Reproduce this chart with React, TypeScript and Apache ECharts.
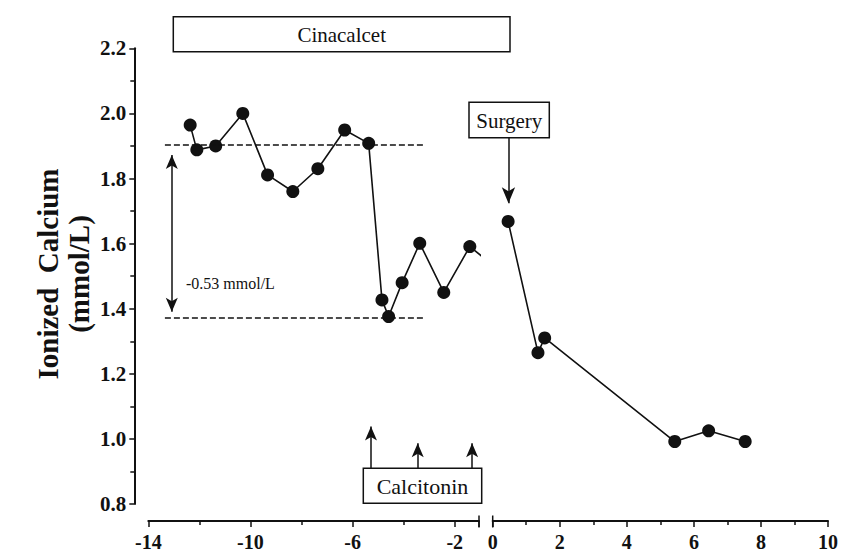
import React, { useEffect, useRef } from "react";
import * as echarts from "echarts";

// Pre-surgery (weeks, left panel)
const preWeeks = [-12.36, -12.1, -11.36, -10.3, -9.33, -8.34, -7.36, -6.31, -5.37, -4.85, -4.59, -4.06, -3.37, -2.43, -1.41];
const preCalcium = [1.964, 1.888, 1.9, 2.0, 1.811, 1.76, 1.83, 1.949, 1.908, 1.427, 1.376, 1.48, 1.601, 1.45, 1.591];
// line stub leaving the left panel towards the axis break
const stubWeeks = [-1.41, -0.86];
const stubCalcium = [1.591, 1.556];
// Post-surgery (right panel)
const postWeeks = [0.46, 1.35, 1.55, 5.43, 6.44, 7.53];
const postCalcium = [1.668, 1.265, 1.31, 0.992, 1.025, 0.992];

// Reference levels (dashed lines) and their span
const upperLevel = 1.905;
const lowerLevel = 1.371;
const levelSpan = [-13.35, -3.15];
const diffArrowX = -13.08;
const diffArrowY = [1.872, 1.391];
const diffLabel = "-0.53 mmol/L";

// Calcitonin doses (arrows)
const calcitoninWeeks = [-5.28, -3.45, -1.32];
const calcitoninArrowBase = 0.9105;
const calcitoninArrowTips = [1.038, 0.987, 0.987];
// Surgery arrow
const surgeryWeek = 0.47;
const surgeryArrowY = [1.925, 1.724];

// Axis ticks
const yTicks = [0.8, 1.0, 1.2, 1.4, 1.6, 1.8, 2.0, 2.2];
const leftXLabels = [-14, -10, -6, -2];
const rightXLabels = [0, 2, 4, 6, 8, 10];

const SERIF = "'Liberation Serif', 'DejaVu Serif', serif";

export default function App() {
  const ref = useRef<HTMLDivElement>(null);
  useEffect(() => {
    if (!ref.current) return;
    const chart = echarts.init(ref.current, undefined, { renderer: "svg" });

    const black = "#111";
    const tickLabel = {
      color: black,
      fontFamily: SERIF,
      fontWeight: "bold" as const,
      fontSize: 20,
    };

    const xAxisCommon = {
      type: "value" as const,
      offset: 17,
      splitLine: { show: false },
      axisLine: { show: true, onZero: false, lineStyle: { color: black, width: 2 } },
      axisTick: { show: true, length: 6, lineStyle: { color: black, width: 1.5 } },
      minorTick: { show: true, splitNumber: 2, length: 4, lineStyle: { color: black, width: 1.5 } },
    };

    const arrowLines = calcitoninWeeks.map((w, i) => [
      { coord: [w, calcitoninArrowBase], symbol: "none" },
      { coord: [w, calcitoninArrowTips[i]], symbol: "arrow" },
    ]);

    chart.setOption({
      animation: false,
      grid: [
        { left: 148.3, top: 48.3, width: 330.7, height: 456 },
        { left: 492.7, top: 48.3, width: 337.3, height: 456 },
      ],
      xAxis: [
        {
          ...xAxisCommon,
          gridIndex: 0,
          min: -14,
          max: -1.05,
          interval: 4,
          axisLabel: {
            ...tickLabel,
            margin: 11,
            showMaxLabel: false,
            formatter: (v: number) => (leftXLabels.includes(v) ? String(v) : ""),
          },
        },
        {
          ...xAxisCommon,
          gridIndex: 1,
          min: 0,
          max: 10,
          interval: 2,
          axisLabel: {
            ...tickLabel,
            margin: 11,
            formatter: (v: number) => (rightXLabels.includes(v) ? String(v) : ""),
          },
        },
      ],
      yAxis: [
        {
          type: "value",
          gridIndex: 0,
          min: 0.8,
          max: 2.2,
          interval: 0.2,
          offset: 14,
          splitLine: { show: false },
          axisLine: { show: true, onZero: false, lineStyle: { color: black, width: 2 } },
          axisTick: { show: true, length: 5, lineStyle: { color: black, width: 1.5 } },
          minorTick: { show: true, splitNumber: 2, length: 4, lineStyle: { color: black, width: 1.5 } },
          axisLabel: {
            ...tickLabel,
            fontSize: 21,
            margin: 8,
            formatter: (v: number) => {
              const t = yTicks.find((y) => Math.abs(y - v) < 1e-6);
              return t === undefined ? "" : t.toFixed(1);
            },
          },
        },
        {
          type: "value",
          gridIndex: 1,
          min: 0.8,
          max: 2.2,
          show: false,
          splitLine: { show: false },
        },
      ],
      series: [
        {
          type: "line",
          xAxisIndex: 0,
          yAxisIndex: 0,
          data: stubWeeks.map((w, i) => [w, stubCalcium[i]]),
          showSymbol: false,
          symbol: "none",
          clip: false,
          lineStyle: { color: black, width: 1.6 },
          z: 1,
        },
        {
          type: "line",
          xAxisIndex: 0,
          yAxisIndex: 0,
          data: preWeeks.map((w, i) => [w, preCalcium[i]]),
          symbol: "circle",
          symbolSize: 13,
          itemStyle: { color: black },
          lineStyle: { color: black, width: 1.6 },
          z: 3,
          markLine: {
            silent: true,
            animation: false,
            label: { show: false },
            data: [
              [
                { coord: [levelSpan[0], upperLevel], symbol: "none", lineStyle: { type: [6, 3], width: 1.5, color: black } },
                { coord: [levelSpan[1], upperLevel], symbol: "none" },
              ],
              [
                { coord: [levelSpan[0], lowerLevel], symbol: "none", lineStyle: { type: [6, 3], width: 1.5, color: black } },
                { coord: [levelSpan[1], lowerLevel], symbol: "none" },
              ],
              [
                { coord: [diffArrowX, diffArrowY[0]], symbol: "arrow" },
                { coord: [diffArrowX, diffArrowY[1]], symbol: "arrow" },
              ],
              ...arrowLines,
            ],
            symbolSize: [9, 14],
            lineStyle: { color: black, width: 1.5, type: "solid" },
          },
        },
        {
          type: "line",
          xAxisIndex: 1,
          yAxisIndex: 1,
          data: postWeeks.map((w, i) => [w, postCalcium[i]]),
          symbol: "circle",
          symbolSize: 13,
          itemStyle: { color: black },
          lineStyle: { color: black, width: 1.6 },
          z: 3,
          markLine: {
            silent: true,
            animation: false,
            label: { show: false },
            symbolSize: [10, 16],
            lineStyle: { color: black, width: 1.5, type: "solid" },
            data: [
              [
                { coord: [surgeryWeek, surgeryArrowY[0]], symbol: "none" },
                { coord: [surgeryWeek, surgeryArrowY[1]], symbol: "arrow" },
              ],
            ],
          },
        },
      ],
      graphic: [
        {
          type: "text",
          x: 63,
          y: 274,
          rotation: Math.PI / 2,
          style: {
            text: "Ionized  Calcium\n(mmol/L)",
            font: `bold 29px ${SERIF}`,
            fill: black,
            align: "center",
            verticalAlign: "middle",
            lineHeight: 31,
          },
        },
        {
          type: "rect",
          shape: { x: 173.3, y: 16.7, width: 336.7, height: 35 },
          style: { fill: "#fff", stroke: black, lineWidth: 1.5 },
          z: 10,
        },
        {
          type: "text",
          x: 341.7,
          y: 35,
          style: { text: "Cinacalcet", font: `21px ${SERIF}`, fill: black, align: "center", verticalAlign: "middle" },
          z: 11,
        },
        {
          type: "rect",
          shape: { x: 469, y: 102.3, width: 80.3, height: 35.4 },
          style: { fill: "#fff", stroke: black, lineWidth: 1.5 },
          z: 10,
        },
        {
          type: "text",
          x: 509.3,
          y: 121,
          style: { text: "Surgery", font: `21px ${SERIF}`, fill: black, align: "center", verticalAlign: "middle" },
          z: 11,
        },
        {
          type: "rect",
          shape: { x: 363.3, y: 468.3, width: 118.4, height: 35 },
          style: { fill: "#fff", stroke: black, lineWidth: 1.5 },
          z: 10,
        },
        {
          type: "text",
          x: 422.5,
          y: 486.5,
          style: { text: "Calcitonin", font: `22px ${SERIF}`, fill: black, align: "center", verticalAlign: "middle" },
          z: 11,
        },
        {
          type: "text",
          x: 186,
          y: 283,
          style: { text: diffLabel, font: `16px ${SERIF}`, fill: black, align: "left", verticalAlign: "middle" },
          z: 11,
        },
        {
          type: "line",
          shape: { x1: 479, y1: 515.5, x2: 479, y2: 527.5 },
          style: { stroke: black, lineWidth: 1.5 },
        },
        {
          type: "line",
          shape: { x1: 492.7, y1: 515.5, x2: 492.7, y2: 527.5 },
          style: { stroke: black, lineWidth: 1.5 },
        },
      ],
    });
    return () => chart.dispose();
  }, []);

  return (
    <div
      ref={ref}
      style={{ position: "fixed", left: 0, top: 0, width: 841, height: 552, background: "#fff" }}
    />
  );
}
